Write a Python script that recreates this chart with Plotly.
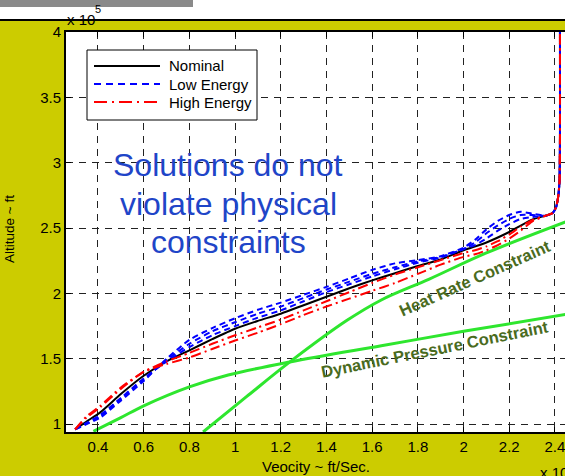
import plotly.graph_objects as go

# Velocity in units of 1e4 ft/s, altitude in units of 1e5 ft
vel_nominal = [0.30, 0.35, 0.41, 0.50, 0.60, 0.70, 0.80, 0.90, 1.00, 1.10, 1.20, 1.30, 1.40,
               1.50, 1.60, 1.70, 1.80, 1.90, 2.00, 2.10, 2.20, 2.30, 2.36,
               2.39, 2.405, 2.415, 2.42, 2.422, 2.422]
alt_nominal = [0.96, 1.02, 1.09, 1.23, 1.37, 1.48, 1.565, 1.65, 1.73, 1.79, 1.845, 1.91, 1.975,
               2.04, 2.10, 2.155, 2.21, 2.26, 2.33, 2.39, 2.47, 2.565, 2.595,
               2.615, 2.66, 2.75, 2.86, 3.2, 4.0]

vel_dispersed = [0.30, 0.35, 0.41, 0.50, 0.60, 0.70, 0.80, 0.90, 1.00, 1.10, 1.20, 1.30, 1.40,
                 1.50, 1.60, 1.70, 1.80, 1.90, 2.00, 2.05, 2.10, 2.15, 2.20, 2.25, 2.30, 2.36,
                 2.39, 2.405, 2.415, 2.42, 2.422, 2.422]

alt_low_a = [0.96, 1.00, 1.05, 1.18, 1.33, 1.50, 1.645, 1.735, 1.81, 1.875, 1.93, 1.99, 2.05,
             2.115, 2.18, 2.23, 2.255, 2.285, 2.35, 2.41, 2.49, 2.555, 2.60, 2.625, 2.61, 2.595,
             2.615, 2.66, 2.75, 2.86, 3.2, 4.0]
alt_low_b = [0.96, 1.005, 1.06, 1.19, 1.34, 1.49, 1.615, 1.71, 1.78, 1.845, 1.90, 1.965, 2.03,
             2.09, 2.15, 2.20, 2.245, 2.28, 2.34, 2.39, 2.46, 2.52, 2.57, 2.60, 2.60, 2.595,
             2.615, 2.66, 2.75, 2.86, 3.2, 4.0]
alt_low_c = [0.96, 1.01, 1.07, 1.20, 1.35, 1.48, 1.59, 1.68, 1.75, 1.815, 1.87, 1.94, 2.01,
             2.07, 2.13, 2.185, 2.235, 2.275, 2.34, 2.37, 2.42, 2.48, 2.53, 2.57, 2.585, 2.595,
             2.615, 2.66, 2.75, 2.86, 3.2, 4.0]

alt_high_a = [0.96, 1.05, 1.13, 1.27, 1.40, 1.48, 1.545, 1.615, 1.68, 1.74, 1.80, 1.87, 1.94,
              2.01, 2.08, 2.145, 2.20, 2.255, 2.31, 2.33, 2.36, 2.40, 2.45, 2.51, 2.56, 2.595,
              2.615, 2.66, 2.75, 2.86, 3.2, 4.0]
alt_high_b = [0.96, 1.06, 1.14, 1.28, 1.40, 1.46, 1.51, 1.575, 1.64, 1.70, 1.765, 1.835, 1.90,
              1.96, 2.02, 2.08, 2.15, 2.22, 2.28, 2.30, 2.33, 2.37, 2.42, 2.48, 2.55, 2.595,
              2.615, 2.66, 2.75, 2.86, 3.2, 4.0]

# Constraint boundaries
vel_heat = [0.86, 1.05, 1.24, 1.49, 1.64, 1.85, 2.10, 2.45]
alt_heat = [0.94, 1.21, 1.476, 1.794, 1.95, 2.11, 2.31, 2.55]
vel_qbar = [0.38, 0.50, 0.60, 0.80, 0.97, 1.24, 1.64, 2.00, 2.45]
alt_qbar = [0.945, 1.05, 1.14, 1.285, 1.376, 1.476, 1.60, 1.71, 1.84]

x_ticks = [0.4, 0.6, 0.8, 1.0, 1.2, 1.4, 1.6, 1.8, 2.0, 2.2, 2.4]
x_tick_text = ["0.4", "0.6", "0.8", "1", "1.2", "1.4", "1.6", "1.8", "2", "2.2", "2.4"]
y_ticks = [1, 1.5, 2, 2.5, 3, 3.5, 4]
y_tick_text = ["1", "1.5", "2", "2.5", "3", "3.5", "4"]

FONT = "Liberation Sans, Arial, sans-serif"
W, H = 565, 476
ML, MR, MT, MB = 66, 0, 32, 44
PW, PH = W - ML - MR, H - MT - MB


def px(xp):
    return (xp - ML) / PW


def py(yp):
    return (H - MB - yp) / PH


def label(text, xp, yp, size, color="black", angle=0, xanchor="center"):
    return dict(text=text, xref="paper", yref="paper", x=px(xp), y=py(yp),
                xanchor=xanchor, yanchor="middle", showarrow=False, textangle=angle,
                font=dict(family=FONT, size=size, color=color))


fig = go.Figure()

fig.add_trace(go.Scatter(x=vel_heat, y=alt_heat, mode="lines", line=dict(color="#2ee62e", width=3, shape="spline")))
fig.add_trace(go.Scatter(x=vel_qbar, y=alt_qbar, mode="lines", line=dict(color="#2ee62e", width=3, shape="spline")))

fig.add_trace(go.Scatter(x=vel_nominal, y=alt_nominal, mode="lines",
                         line=dict(color="black", width=2, shape="spline", smoothing=0.6)))
for alt in (alt_low_a, alt_low_b, alt_low_c):
    fig.add_trace(go.Scatter(x=vel_dispersed, y=alt, mode="lines",
                             line=dict(color="#0000ff", width=2, dash="6px,4px", shape="spline", smoothing=0.6)))
for alt in (alt_high_a, alt_high_b):
    fig.add_trace(go.Scatter(x=vel_dispersed, y=alt, mode="lines",
                             line=dict(color="#ff0000", width=2, dash="10px,4px,2px,4px", shape="spline", smoothing=0.6)))

shapes = [
    # header strip above the figure area
    dict(type="rect", xref="paper", yref="paper", x0=px(0), x1=px(W), y0=py(20), y1=py(0),
         fillcolor="white", line=dict(width=0), layer="below"),
    dict(type="rect", xref="paper", yref="paper", x0=px(0), x1=px(193), y0=py(7), y1=py(0),
         fillcolor="#8a8a8a", line=dict(width=0), layer="below"),
    dict(type="line", xref="paper", yref="paper", x0=px(0), x1=px(W), y0=py(20), y1=py(20),
         line=dict(color="black", width=2)),
    # legend box
    dict(type="rect", xref="paper", yref="paper", x0=px(87), x1=px(257), y0=py(120), y1=py(50),
         fillcolor="white", line=dict(color="black", width=1)),
    dict(type="line", xref="paper", yref="paper", x0=px(94), x1=px(160), y0=py(66), y1=py(66),
         line=dict(color="black", width=2)),
    dict(type="line", xref="paper", yref="paper", x0=px(94), x1=px(160), y0=py(84), y1=py(84),
         line=dict(color="#0000ff", width=2, dash="7px,5px")),
    dict(type="line", xref="paper", yref="paper", x0=px(94), x1=px(160), y0=py(102), y1=py(102),
         line=dict(color="#ff0000", width=2, dash="13px,5px,2px,5px")),
]

annotations = []
for text, yy in (("Nominal", 66), ("Low Energy", 84), ("High Energy", 102)):
    annotations.append(label(text, 167, yy, 15, xanchor="left"))

for text, yy in (("Solutions do not", 165), ("violate physical", 204), ("constraints", 242)):
    annotations.append(label(text, 228, yy, 32, color="#1f45c8"))

annotations += [
    label("<b>Heat Rate Constraint</b>", 475, 278, 16.5, color="#4a6b1e", angle=-24),
    label("<b>Dynamic Pressure Constraint</b>", 435, 349, 16.5, color="#4a6b1e", angle=-11.4),
    label("x 10", 65, 20, 15, xanchor="left"),
    label("5", 98, 9, 11),
    label("x 10", 538, 472, 15, xanchor="left"),
    label("Altitude ~ ft", 9, 229, 13.5, angle=-90),
    label("Veocity ~ ft/Sec.", 316, 466, 15),
]

grid_dash = "7px,6px"
fig.update_layout(
    width=W, height=H,
    margin=dict(l=ML, r=MR, t=MT, b=MB, pad=0),
    paper_bgcolor="#cccc00",
    plot_bgcolor="white",
    showlegend=False,
    shapes=shapes,
    annotations=annotations,
    font=dict(family=FONT, size=15, color="black"),
    xaxis=dict(range=[0.26, 2.444], tickvals=x_ticks, ticktext=x_tick_text,
               showgrid=True, gridcolor="#222222", gridwidth=1, griddash=grid_dash,
               zeroline=False, showline=True, linecolor="black", linewidth=2, mirror="ticks",
               ticks="inside", ticklen=5, tickcolor="black", ticklabeloverflow="allow",
               tickfont=dict(family=FONT, size=15, color="black")),
    yaxis=dict(range=[0.94, 4.0], tickvals=y_ticks, ticktext=y_tick_text,
               showgrid=True, gridcolor="#222222", gridwidth=1, griddash=grid_dash,
               zeroline=False, showline=True, linecolor="black", linewidth=2,
               ticks="inside", ticklen=5, tickcolor="black", ticklabeloverflow="allow",
               tickfont=dict(family=FONT, size=15, color="black")),
)

fig.write_html("out.html")
